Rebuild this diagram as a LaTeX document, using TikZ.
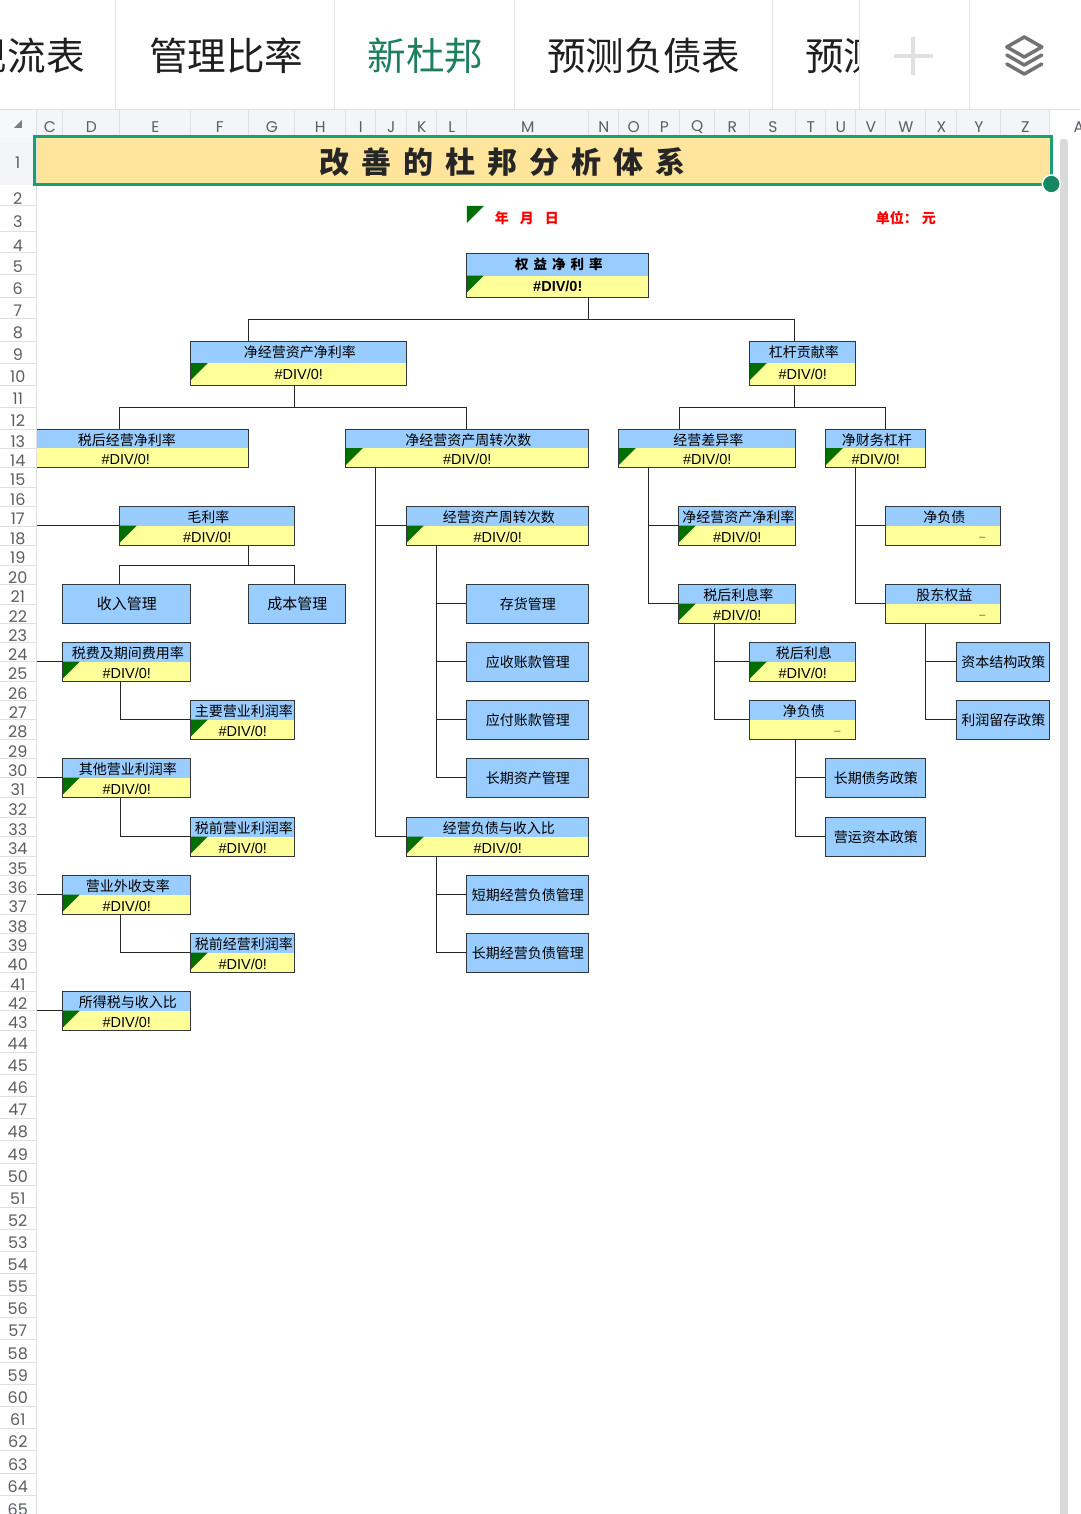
\documentclass[tikz,border=0pt]{standalone}
\usepackage{fontspec}
\usepackage{xcolor}
\setmainfont{Liberation Sans}
\newfontfamily\cjk{Noto Sans CJK SC}
\newfontfamily\gridfont{Poppins}
\definecolor{cellblue}{RGB}{153,204,255}
\definecolor{cellyellow}{RGB}{255,255,153}
\definecolor{flaggreen}{RGB}{0,110,0}
\definecolor{titlefill}{RGB}{255,228,156}
\definecolor{selgreen}{RGB}{26,158,116}
\definecolor{tabgreen}{RGB}{29,127,95}
\definecolor{gridgrey}{RGB}{222,224,227}
\definecolor{headbg}{RGB}{243,245,248}
\definecolor{headtext}{RGB}{90,94,100}
\definecolor{boxline}{RGB}{50,55,60}
\tikzset{
  ratio/.style={draw=boxline, line width=1pt, fill=cellblue, inner sep=0pt, path picture={
    \fill[cellyellow] (path picture bounding box.west) rectangle (path picture bounding box.south east);}},
  flagratio/.style={draw=boxline, line width=1pt, fill=cellblue, inner sep=0pt, path picture={
    \fill[cellyellow] (path picture bounding box.west) rectangle (path picture bounding box.south east);
    \fill[flaggreen] (path picture bounding box.west) -- ++(17,0) -- ++(-17,17) -- cycle;}},
  policy/.style={draw=boxline, line width=1pt, fill=cellblue, inner sep=0pt, text depth=0pt,
    font=\cjk\fontsize{14}{14}\selectfont},
  labtext/.style={font=\cjk\fontsize{14}{14}\selectfont, inner sep=0pt, xshift=1pt},
  valtext/.style={font=\fontsize{14.5}{15}\selectfont, inner sep=0pt},
  dashtext/.style={font=\fontsize{11}{11}\selectfont, text=headtext, inner sep=0pt},
  redtext/.style={font=\cjk\bfseries\fontsize{14}{14}\selectfont\spaceskip 11pt\relax, text=red, inner sep=0pt},
  tabtext/.style={font=\cjk\fontsize{38.6}{39}\selectfont, text=black!88, inner sep=0pt},
  colhead/.style={font=\gridfont\fontsize{15.5}{16}\selectfont, text=headtext, inner sep=0pt},
  rowhead/.style={font=\gridfont\fontsize{16}{16}\selectfont, text=headtext, inner sep=0pt},
  link/.style={draw=black!85, line width=1pt},
  gridline/.style={draw=gridgrey, line width=1pt},
  tabline/.style={draw=black!10, line width=1.2pt},
}
\newcommand{\divz}{\#DIV/0!}
\newcommand{\ratiocell}[5]{%
  \node[flagratio, minimum width=#3pt, minimum height=#4pt] (#1) at (#2) {};
  \node[labtext] (#1t) at ([yshift=-11.5pt]#1.north) {#5};
  \node[valtext] (#1v) at ([yshift=-11.5pt]#1.center) {\divz};
}
\newcommand{\debtcell}[5]{%
  \node[ratio, minimum width=#3pt, minimum height=#4pt] (#1) at (#2) {};
  \node[labtext] (#1t) at ([yshift=-11.5pt]#1.north) {#5};
  \node[dashtext] (#1v) at ([xshift=-19pt,yshift=7pt]#1.south east) {–};
}
\begin{document}
\begin{tikzpicture}[x=1pt,y=-1pt]
  \useasboundingbox (0.2,0) rectangle (1080.2,1514);
  \clip (0.2,0) rectangle (1080.2,1514);
  \fill[white] (0,0) rectangle (1081,1514);

  \node[fill=titlefill, inner sep=0pt, minimum width=1096pt, minimum height=48pt, text depth=0pt,
    font=\cjk\bfseries\fontsize{30}{30}\selectfont\spaceskip 12pt\relax, text=black!85] (title) at (503,161) {改 善 的 杜 邦 分 析 体 系};

  \fill[flaggreen] (467,206) -- (484,206) -- (467,223) -- cycle;
  \node[redtext] (datetxt) at (527,218) {年 月 日};
  \node[redtext, font=\cjk\bfseries\fontsize{14}{14}\selectfont\spaceskip 4pt\relax] (unittxt) at (906,218) {单位： 元};

  \node[flagratio, minimum width=182pt, minimum height=43pt] (root) at (558,275.5) {};
  \node[labtext, font=\cjk\bfseries\fontsize{13.5}{14}\selectfont\spaceskip 5pt\relax] (roott) at ([yshift=-11pt]root.north) {权 益 净 利 率};
  \node[valtext, font=\bfseries\fontsize{14.5}{15}\selectfont] (rootv) at ([yshift=-10.5pt]root.center) {\divz};

  \ratiocell{npm}{299,363}{216}{44}{净经营资产净利率}
  \ratiocell{lever}{803,363}{106}{44}{杠杆贡献率}
  \ratiocell{taxop}{126,448}{246}{38}{税后经营净利率}
  \ratiocell{turn}{467.5,448}{243}{38}{净经营资产周转次数}
  \ratiocell{spread}{707.5,448}{177}{38}{经营差异率}
  \ratiocell{flev}{876,448}{100}{38}{净财务杠杆}

  \ratiocell{gross}{207.5,525.5}{175}{39}{毛利率}
  \ratiocell{opturn}{498,525.5}{182}{39}{经营资产周转次数}
  \ratiocell{rnoa}{737.5,525.5}{117}{39}{净经营资产净利率}
  \debtcell{debt}{943.5,525.5}{115}{39}{净负债}

  \ratiocell{intr}{737.5,603.5}{117}{39}{税后利息率}
  \debtcell{equity}{943.5,603.5}{115}{39}{股东权益}
  \ratiocell{fee}{127,661.5}{128}{39}{税费及期间费用率}
  \ratiocell{aftint}{803,661.5}{106}{39}{税后利息}
  \ratiocell{mainpr}{243,719.5}{104}{39}{主要营业利润率}
  \debtcell{debtb}{803,719.5}{106}{39}{净负债}
  \ratiocell{other}{127,777.5}{128}{39}{其他营业利润率}
  \ratiocell{prepr}{243,836.5}{104}{39}{税前营业利润率}
  \ratiocell{opliab}{498,836.5}{182}{39}{经营负债与收入比}
  \ratiocell{nonop}{127,894.5}{128}{39}{营业外收支率}
  \ratiocell{preop}{243,952.5}{104}{39}{税前经营利润率}
  \ratiocell{inctax}{127,1010.5}{128}{39}{所得税与收入比}

  \node[policy, font=\cjk\fontsize{15}{15}\selectfont, minimum width=128pt, minimum height=39pt] (income) at (127,603.5) {收入管理};
  \node[policy, font=\cjk\fontsize{15}{15}\selectfont, minimum width=97pt, minimum height=39pt] (cost) at (297.5,603.5) {成本管理};
  \node[policy, minimum width=122pt, minimum height=39pt] (inv) at (528,603.5) {存货管理};
  \node[policy, minimum width=122pt, minimum height=39pt] (recv) at (528,661.5) {应收账款管理};
  \node[policy, minimum width=122pt, minimum height=39pt] (pay) at (528,719.5) {应付账款管理};
  \node[policy, minimum width=122pt, minimum height=39pt] (lta) at (528,777.5) {长期资产管理};
  \node[policy, minimum width=122pt, minimum height=39pt] (stl) at (528,894.5) {短期经营负债管理};
  \node[policy, minimum width=122pt, minimum height=39pt] (ltl) at (528,952.5) {长期经营负债管理};
  \node[policy, minimum width=93pt, minimum height=39pt] (cap) at (1003.5,661.5) {资本结构政策};
  \node[policy, minimum width=93pt, minimum height=39pt] (ret) at (1003.5,719.5) {利润留存政策};
  \node[policy, minimum width=100pt, minimum height=39pt] (ltpol) at (876,777.5) {长期债务政策};
  \node[policy, minimum width=100pt, minimum height=39pt] (wcpol) at (876,836.5) {营运资本政策};

  \coordinate (ca) at (589,319);
  \coordinate (la) at (249,319);
  \coordinate (ra) at (795,319);
  \draw[link] (root.south -| ca) -- (ca);
  \draw[link] (npm.north -| la) -- (la) -- (ra) -- (lever.north -| ra);
  \coordinate (cb) at (295,407);
  \coordinate (lb) at (120,407);
  \coordinate (rb) at (467,407);
  \draw[link] (npm.south -| cb) -- (cb);
  \draw[link] (taxop.north -| lb) -- (lb) -- (rb) -- (turn.north -| rb);
  \coordinate (cc) at (795,407);
  \coordinate (lc) at (680,407);
  \coordinate (rc) at (886,407);
  \draw[link] (lever.south -| cc) -- (cc);
  \draw[link] (spread.north -| lc) -- (lc) -- (rc) -- (flev.north -| rc);
  \coordinate (cd) at (249,565);
  \coordinate (ld) at (120,565);
  \coordinate (rd) at (295,565);
  \draw[link] (gross.south -| cd) -- (cd);
  \draw[link] (income.north -| ld) -- (ld) -- (rd) -- (cost.north -| rd);

  \coordinate (ta) at (20,0);
  \coordinate (tb) at (121,0);
  \coordinate (tc) at (376,0);
  \coordinate (td) at (437,0);
  \coordinate (te) at (649,0);
  \coordinate (tf) at (715,0);
  \coordinate (tg) at (796,0);
  \coordinate (th) at (856,0);
  \coordinate (ti) at (926,0);
  \foreach \from/\trunk/\to in {taxop/ta/gross, taxop/ta/fee, taxop/ta/other, taxop/ta/nonop, taxop/ta/inctax,
      fee/tb/mainpr, other/tb/prepr, nonop/tb/preop,
      turn/tc/opturn, turn/tc/opliab,
      opturn/td/inv, opturn/td/recv, opturn/td/pay, opturn/td/lta, opliab/td/stl, opliab/td/ltl,
      spread/te/rnoa, spread/te/intr, intr/tf/aftint, intr/tf/debtb,
      debtb/tg/ltpol, debtb/tg/wcpol, flev/th/debt, flev/th/equity, equity/ti/cap, equity/ti/ret}
    \draw[link] (\from.south -| \trunk) |- (\to.west);

  \fill[white] (0,137) rectangle (37,1514);
  \fill[headbg] (0,137) rectangle (37,185);
  \node[rowhead] (rowa) at (18,163) {1};
  \foreach \n/\b [remember=\b as \a (initially 185), evaluate=\b as \my using {(\a+\b)/2+3}] in {2/206, 3/232, 4/253, 5/274, 6/297, 7/318, 8/341, 9/363, 10/385, 11/407, 12/429, 13/448, 14/467, 15/487, 16/506, 17/526, 18/545, 19/565, 20/584, 21/604, 22/623, 23/642, 24/661, 25/681, 26/700, 27/719, 28/739, 29/758, 30/777, 31/797, 32/817, 33/836, 34/856, 35/875, 36/894, 37/914, 38/933, 39/952, 40/972, 41/991, 42/1010, 43/1030, 44/1052, 45/1074, 46/1096, 47/1118, 48/1140, 49/1163, 50/1185, 51/1207, 52/1229, 53/1251, 54/1273, 55/1295, 56/1317, 57/1339, 58/1362, 59/1384, 60/1406, 61/1428, 62/1450, 63/1473, 64/1495, 65/1518} {
    \node[rowhead] (row\n) at (18,\my) {\n};
    \draw[gridline] (0,\b) -- (37,\b);
  }
  \draw[gridline] (36.5,137) -- (36.5,1514);

  \fill[white] (0,0) rectangle (1081,110);
  \fill[headbg] (37,110) rectangle (1050,137);
  \fill[headbg!70!white] (0,110) rectangle (37,137);
  \fill[headtext!80!white] (14,128) -- (22,128) -- (22,120) -- cycle;
  \foreach \c/\b [remember=\b as \a (initially 37), evaluate=\b as \mx using {(\a+\b)/2}] in {C/63, D/120, E/191, F/249, G/295, H/346, I/376, J/407, K/437, L/467, M/589, N/619, O/649, P/680, Q/715, R/750, S/796, T/826, U/856, V/886, W/926, X/957, Y/1001, Z/1050} {
    \node[colhead] (col\c) at (\mx,127) {\c};
    \draw[gridline] (\b,110) -- (\b,137);
  }
  \draw[gridline] (37,110) -- (37,137);
  \node[colhead] (colaa) at (1079,127) {A};
  \draw[gridline] (0,110) -- (1081,110);

  \node[tabtext] (tabcash) at (27,56) {现流表};
  \node[tabtext] (tabmgmt) at (226.5,56) {管理比率};
  \node[tabtext, text=tabgreen] (tabdupont) at (425.5,56) {新杜邦};
  \node[tabtext] (tabdebt) at (644,56) {预测负债表};
  \node[tabtext] (tabfore) at (844,56) {预测};
  \fill[white] (860,0) rectangle (1081,109);
  \foreach \tx in {116,335,515,773,860,970}
    \draw[tabline] (\tx,0) -- (\tx,109);
  \draw[black!12, line width=4pt] (894,56) -- (933,56) (913.5,37) -- (913.5,75);
  \draw[black!55, line width=3.5pt, line join=round, line cap=round] (1007,47) -- (1024.5,37) -- (1042,47) -- (1024.5,57) -- cycle
    (1007,55) -- (1024.5,65) -- (1042,55) (1007,64) -- (1024.5,74) -- (1042,64);

  \draw[selgreen, line width=3pt] (35,137) rectangle (1052,185);
  \fill[black!15, rounded corners=3pt] (1060,139) rectangle (1068,1530);
  \filldraw[fill=selgreen!85!black, draw=white, line width=1.5pt] (1051.5,184) circle (9pt);
\end{tikzpicture}
\end{document}
